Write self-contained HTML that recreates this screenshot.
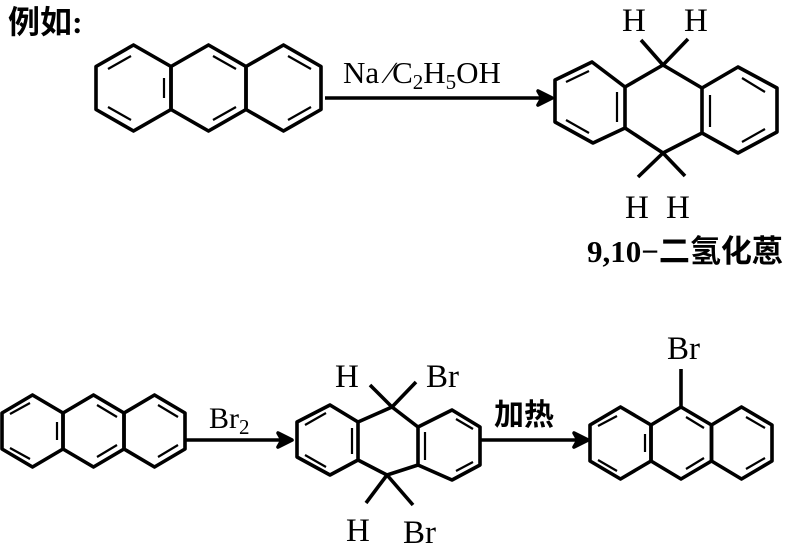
<!DOCTYPE html>
<html><head><meta charset="utf-8"><style>
html,body{margin:0;padding:0;background:#fff;}
svg{display:block;}
text{font-family:"Liberation Serif","Noto Serif CJK SC",serif;fill:#000;}
.cjk{font-family:"Liberation Serif","Noto Sans CJK SC",sans-serif;font-weight:bold;}
</style></head><body>
<svg width="788" height="543" viewBox="0 0 788 543" xmlns="http://www.w3.org/2000/svg">
<g fill="none" stroke="#000" stroke-width="3.6" stroke-linejoin="round">
<polygon points="133.5,45 171,66.5 171,109.5 133.5,131 96,109.5 96,66.5"/>
<polygon points="208.5,45 246,66.5 246,109.5 208.5,131 171,109.5 171,66.5"/>
<polygon points="283.5,45 321,66.5 321,109.5 283.5,131 246,109.5 246,66.5"/>
<g stroke-width="2.2">
<line x1="108" y1="69" x2="131" y2="56"/><line x1="108" y1="107" x2="131" y2="120"/><line x1="164" y1="78" x2="164" y2="98"/>
<line x1="213" y1="56" x2="236" y2="69"/><line x1="213" y1="120" x2="236" y2="107"/>
<line x1="288" y1="56" x2="311" y2="69"/><line x1="288" y1="120" x2="311" y2="107"/>
</g>
<line x1="325" y1="98" x2="548" y2="98"/>
<polygon points="552,98 538,91 542,98 538,105" fill="#000"/>
<polygon points="555,80 592,62 625,87 625,128 593,143 555,122"/>
<polyline points="625,87 663,65 702,88"/>
<polyline points="625,128 663,153 702,133"/>
<polygon points="702,88 738,67 777,88 777,132 738,153 702,133"/>
<g stroke-width="2.2">
<line x1="566" y1="82" x2="589" y2="71"/><line x1="566" y1="120" x2="589" y2="133"/><line x1="617" y1="92" x2="617" y2="122"/>
<line x1="710" y1="95" x2="710" y2="127"/><line x1="742" y1="78" x2="765" y2="92"/><line x1="742" y1="142" x2="765" y2="129"/>
</g>
<line x1="663" y1="65" x2="641" y2="40"/><line x1="663" y1="65" x2="688" y2="39"/>
<line x1="663" y1="153" x2="638" y2="177"/><line x1="663" y1="153" x2="685" y2="176"/>
<polygon points="32.5,395 63,413 63,449 32.5,467 2,449 2,413"/>
<polygon points="93.5,395 124,413 124,449 93.5,467 63,449 63,413"/>
<polygon points="154.5,395 185,413 185,449 154.5,467 124,449 124,413"/>
<g stroke-width="2.2">
<line x1="10" y1="414" x2="30" y2="403"/><line x1="10" y1="448" x2="30" y2="459"/><line x1="57" y1="422" x2="57" y2="440"/>
<line x1="97" y1="405" x2="117" y2="417"/><line x1="97" y1="457" x2="117" y2="445"/>
<line x1="158" y1="405" x2="178" y2="417"/><line x1="158" y1="457" x2="178" y2="445"/>
</g>
<line x1="186" y1="440" x2="287" y2="440"/>
<polygon points="292,440 278,433 282,440 278,447" fill="#000"/>
<polygon points="297,422 330,405 358,422 358,460 330,475 297,457"/>
<polyline points="358,422 392,407 418,427"/>
<polyline points="358,460 387,475 418,465"/>
<polygon points="418,427 452,410 480,427 480,465 452,480 418,465"/>
<g stroke-width="2.2">
<line x1="305" y1="425" x2="326" y2="413"/><line x1="305" y1="455" x2="326" y2="467"/><line x1="352" y1="428" x2="352" y2="454"/>
<line x1="425" y1="432" x2="425" y2="460"/><line x1="456" y1="419" x2="473" y2="429"/><line x1="456" y1="471" x2="473" y2="462"/>
</g>
<line x1="392" y1="407" x2="370" y2="385"/><line x1="392" y1="407" x2="416" y2="382"/>
<line x1="387" y1="475" x2="366" y2="503"/><line x1="387" y1="475" x2="413" y2="505"/>
<line x1="481" y1="440" x2="583" y2="440"/>
<polygon points="588,440 574,433 578,440 574,447" fill="#000"/>
<polygon points="620.5,407 651,425 651,461 620.5,479 590,461 590,425"/>
<polygon points="681,407 711.5,425 711.5,461 681,479 651,461 651,425"/>
<polygon points="741.5,407 772,425 772,461 741.5,479 711.5,461 711.5,425"/>
<g stroke-width="2.2">
<line x1="598" y1="426" x2="617" y2="416"/><line x1="598" y1="460" x2="617" y2="471"/><line x1="645" y1="434" x2="645" y2="452"/>
<line x1="686" y1="417" x2="704" y2="428"/><line x1="686" y1="469" x2="704" y2="458"/>
<line x1="746" y1="417" x2="765" y2="428"/><line x1="746" y1="469" x2="765" y2="458"/>
</g>
<line x1="681" y1="407" x2="681" y2="369"/>
</g>
<text x="8" y="33" class="cjk" font-size="32">例如:</text>
<text x="343" y="83" font-size="31">Na ∕C<tspan font-size="21" dy="6">2</tspan><tspan dy="-6">H</tspan><tspan font-size="21" dy="6">5</tspan><tspan dy="-6">OH</tspan></text>
<text x="622" y="31" font-size="33">H</text>
<text x="684" y="31" font-size="33">H</text>
<text x="625" y="218" font-size="33">H</text>
<text x="666" y="218" font-size="33">H</text>
<text x="587" y="262" class="cjk" font-size="31">9,10−二氢化蒽</text>
<text x="209" y="428" font-size="30">Br<tspan font-size="21" dy="6">2</tspan></text>
<text x="335" y="387" font-size="33">H</text>
<text x="426" y="387" font-size="33">Br</text>
<text x="346" y="541" font-size="33">H</text>
<text x="403" y="543" font-size="33">Br</text>
<text x="494" y="425" class="cjk" font-size="30">加热</text>
<text x="667" y="359" font-size="33">Br</text>
</svg>
</body></html>
